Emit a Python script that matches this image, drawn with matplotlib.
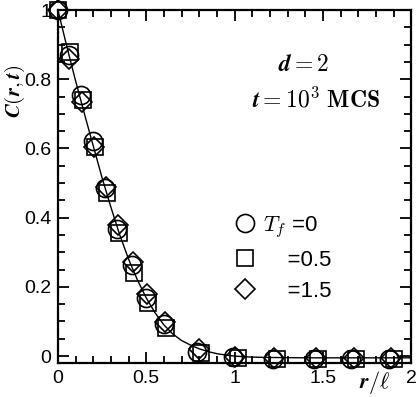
import matplotlib
matplotlib.use('Agg')
import matplotlib.pyplot as plt
from matplotlib.ticker import MultipleLocator

plt.rcParams['font.family'] = ['Liberation Sans', 'DejaVu Sans']
plt.rcParams['mathtext.fontset'] = 'cm'

# scaled correlation data, three quench temperatures
x_t0 = [0, 0.0625, 0.13, 0.2, 0.267, 0.335, 0.42, 0.5, 0.6, 0.79, 0.99, 1.22, 1.45, 1.66, 1.875]
c_t0 = [1.0, 0.87, 0.754, 0.622, 0.485, 0.367, 0.263, 0.168, 0.092, 0.013, -0.004, -0.007, -0.008, -0.007, -0.007]
x_t05 = [0, 0.068, 0.14, 0.21, 0.277, 0.345, 0.43, 0.51, 0.61, 0.81, 1.02, 1.24, 1.47, 1.685, 1.9]
c_t05 = [1.0, 0.88, 0.74, 0.603, 0.47, 0.355, 0.24, 0.153, 0.08, 0.009, -0.006, -0.007, -0.008, -0.007, -0.007]
x_t15 = [0, 0.063, 0.135, 0.205, 0.272, 0.34, 0.425, 0.505, 0.605, 0.8, 1.005, 1.225, 1.46, 1.675, 1.885]
c_t15 = [1.0, 0.86, 0.735, 0.605, 0.49, 0.378, 0.272, 0.18, 0.098, 0.02, -0.003, -0.005, -0.006, -0.005, -0.005]

# fitted curve
x_fit = [0, 0.05, 0.1, 0.15, 0.2, 0.25, 0.3, 0.35, 0.4, 0.45, 0.5, 0.55, 0.6, 0.65, 0.7,
         0.75, 0.8, 0.85, 0.9, 0.95, 1.0, 1.1, 1.2, 1.4, 1.6, 1.8, 2.0]
c_fit = [1.0, 0.895, 0.795, 0.70, 0.607, 0.515, 0.43, 0.35, 0.28, 0.22, 0.168, 0.125, 0.09, 0.064, 0.045,
         0.032, 0.021, 0.013, 0.007, 0.003, 0.0, -0.003, -0.004, -0.005, -0.005, -0.005, -0.005]

labels = [r'$\boldsymbol{T_f}$ =0', r'    =0.5', r'    =1.5']

fig = plt.figure(figsize=(4.17, 3.97), dpi=100)
ax = fig.add_axes([0.139, 0.0856, 0.847, 0.889])

ax.plot(x_fit, c_fit, '-', color='black', lw=1.0, zorder=1)
kw = dict(mfc='none', mec='black', mew=1.2, ls='none', clip_on=False)
ax.plot(x_t0, c_t0, 'o', ms=13, label=labels[0], **kw)
ax.plot(x_t05, c_t05, 's', ms=11, label=labels[1], **kw)
ax.plot(x_t15, c_t15, 'D', ms=10, label=labels[2], **kw)

ax.set_xlim(0, 2)
ax.set_ylim(-0.02, 1.0)
ax.xaxis.set_minor_locator(MultipleLocator(0.1))
ax.yaxis.set_minor_locator(MultipleLocator(0.05))
ax.set_xticks([0, 0.5, 1, 1.5, 2])
ax.set_xticklabels(['0', '0.5', '1', '1.5', '2'])
ax.set_yticks([0, 0.2, 0.4, 0.6, 0.8, 1.0])
ax.set_yticklabels(['0', '0.2', '0.4', '0.6', '0.8', '1'])
ax.tick_params(which='both', direction='in', top=True, right=True, labelsize=14, width=1.3)
ax.tick_params(which='major', length=8, pad=5)
ax.tick_params(which='minor', length=5)
for s in ax.spines.values():
    s.set_linewidth(1.6)

ax.text(-0.123, 0.77, r'$\boldsymbol{C(r,t)}$', transform=ax.transAxes, rotation=90,
        ha='center', va='center', fontsize=15)
ax.text(0.895, -0.055, r'$\boldsymbol{r/\ell}$', transform=ax.transAxes,
        ha='center', va='center', fontsize=16)
ax.text(1.39, 0.842, r'$\boldsymbol{d} = \mathbf{2}$', ha='center', va='center', fontsize=17)
ax.text(1.46, 0.742, r'$\boldsymbol{t} = \mathbf{10^3}\ \mathrm{\mathbf{MCS}}$', ha='center', va='center', fontsize=17)

ax.legend(loc='upper left', bbox_to_anchor=(0.46, 0.448), frameon=False, fontsize=16,
          handletextpad=0.1, labelspacing=0.45, borderaxespad=0, handlelength=1.4)

fig.savefig('out.png', dpi=100)
